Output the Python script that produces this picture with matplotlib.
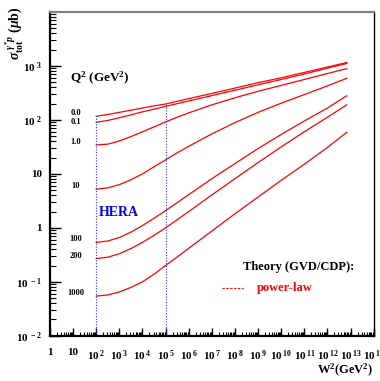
import numpy as np
import matplotlib
matplotlib.use('Agg')
import matplotlib.pyplot as plt
from matplotlib.ticker import FixedLocator, NullFormatter

plt.rcParams['font.family'] = 'Liberation Serif'
plt.rcParams['font.weight'] = 'bold'
plt.rcParams['mathtext.fontset'] = 'custom'
plt.rcParams['mathtext.rm'] = 'Liberation Serif:bold'
plt.rcParams['mathtext.bf'] = 'Liberation Serif:bold'
plt.rcParams['mathtext.it'] = 'Liberation Serif:bold:italic'

# W^2 grid (GeV^2)
w2 = [1e2, 3.16e2, 1e3, 3.16e3, 1e4, 3.16e4, 1e5, 3.16e5,
      1e6, 1e7, 1e8, 1e9, 1e10, 1e11, 1e12, 6.8e12]

# sigma_tot(gamma* p) in microbarn, one list per Q^2
q2_labels = ['0.0', '0.1', '1.0', '10', '100', '200', '1000']
sig_q0 = [117, 126, 138, 151, 166, 182, 197, 221, 248, 309, 389, 490, 603, 759, 955, 1160]
sig_q01 = [90.2, 97.7, 110, 124, 141, 158, 178, 200, 224, 282, 355, 447, 562, 708, 912, 1110]
sig_q1 = [34.3, 35.5, 40.7, 49.0, 60.3, 74.1, 91.8, 112, 135, 190, 257, 339, 436, 562, 724, 891]
sig_q10 = [5.19, 5.50, 6.31, 7.76, 10.0, 13.5, 18.2, 24.5, 32.4, 55.0, 89.1, 138, 204, 295, 427, 589]
sig_q100 = [0.537, 0.569, 0.661, 0.832, 1.10, 1.50, 2.08, 2.92, 4.12, 8.13, 15.5, 29.5, 53.7, 95.5, 166, 280]
sig_q200 = [0.269, 0.285, 0.331, 0.412, 0.537, 0.724, 1.0, 1.41, 2.0, 4.07, 8.13, 16.2, 31.6, 60.3, 112, 190]
sig_q1000 = [0.0542, 0.0569, 0.0646, 0.0785, 0.100, 0.138, 0.200, 0.288, 0.417, 0.871,
             1.82, 3.72, 7.59, 15.1, 30.9, 58.9]
curves = [sig_q0, sig_q01, sig_q1, sig_q10, sig_q100, sig_q200, sig_q1000]

# HERA range markers
hera_w2 = [1e2, 1e5]
hera_top = [117, 197]

xtick_exp = list(range(0, 15))
ytick_exp = [-2, -1, 0, 1, 2, 3]

fig = plt.figure(figsize=(3.8, 3.81), dpi=100)
ax = fig.add_axes([50/380, 1-335.7/381, 323.7/380, 323.7/381])

for s in curves:
    ax.plot(w2, s, color='#ff0000', lw=0.9)

for xv, top in zip(hera_w2, hera_top):
    ax.plot([xv, xv], [1e-2, top], color='#3030ff', lw=0.8, ls=(0, (1, 1.5)))

# Q^2 labels at the start of each curve
lab_x = 10**1.125
for lab, s in zip(q2_labels, curves):
    dy = 0 if lab == '0.1' else 3
    ax.annotate(lab, (lab_x, s[0]), xytext=(0, dy), textcoords='offset pixels',
                ha='center', va='center', fontsize=6, fontweight='bold')

ax.set_xscale('log')
ax.set_yscale('log')
ax.set_xlim(1, 1e14)
ax.set_ylim(1e-2, 1e4)

ax.xaxis.set_major_locator(FixedLocator([10.0**e for e in xtick_exp]))
xlabels = []
for e in xtick_exp:
    if e == 0:
        xlabels.append('1')
    elif e == 1:
        xlabels.append('10')
    else:
        xlabels.append(r'$10^{\,%d}$' % e)
ax.set_xticklabels(xlabels)
ax.xaxis.set_minor_locator(FixedLocator([m * 10.0**e for e in xtick_exp[:-1] for m in range(2, 10)]))
ax.xaxis.set_minor_formatter(NullFormatter())

ax.yaxis.set_major_locator(FixedLocator([10.0**e for e in ytick_exp]))
ylabels = []
for e in ytick_exp:
    if e == 0:
        ylabels.append('1')
    elif e == 1:
        ylabels.append('10')
    else:
        ylabels.append(r'$10^{\ %d}$' % e)
ax.set_yticklabels(ylabels)
ax.yaxis.set_minor_locator(FixedLocator([m * 10.0**e for e in range(-2, 4) for m in range(2, 10)]))
ax.yaxis.set_minor_formatter(NullFormatter())

ax.tick_params(axis='both', which='both', direction='in', top=False, right=False,
               labelsize=8)
ax.tick_params(axis='y', which='major', length=8, width=1, pad=6)
ax.tick_params(axis='y', which='minor', length=4, width=0.8)
ax.tick_params(axis='x', which='major', length=6, width=1, pad=9)
ax.tick_params(axis='x', which='minor', length=3, width=0.8)

for side in ['left', 'bottom']:
    ax.spines[side].set_linewidth(1.6)
ax.spines['top'].set_color('#808080')
ax.spines['top'].set_linewidth(1.6)
ax.spines['right'].set_linewidth(1.0)

fig.text(14/380, 1-6/381, r'$\sigma_{\rm tot}^{\ \gamma^{*}p}$ ($\mu$b)', rotation=90,
         ha='center', va='top', fontsize=10)
fig.text(373/380, 1-370/381, r'W$^2$(GeV$^2$)', ha='right', va='center', fontsize=9)

ax.text(70/380, 1-78/381, r'Q$^2$ (GeV$^2$)', transform=fig.transFigure,
        ha='left', va='center', fontsize=9.5)
ax.text(99/380, 1-213/381, 'HERA', transform=fig.transFigure, color='#0000ee',
        ha='left', va='center', fontsize=10)
ax.text(243/380, 1-267/381, 'Theory (GVD/CDP):', transform=fig.transFigure,
        ha='left', va='center', fontsize=9)
ax.plot([222/380, 243/380], [1-288/381, 1-288/381], transform=fig.transFigure,
        color='#ff0000', lw=0.8, ls=(0, (2, 1.5)))
ax.text(257/380, 1-288/381, 'power-law', transform=fig.transFigure, color='#ff0000',
        ha='left', va='center', fontsize=9)

fig.savefig('out.png', dpi=100)
